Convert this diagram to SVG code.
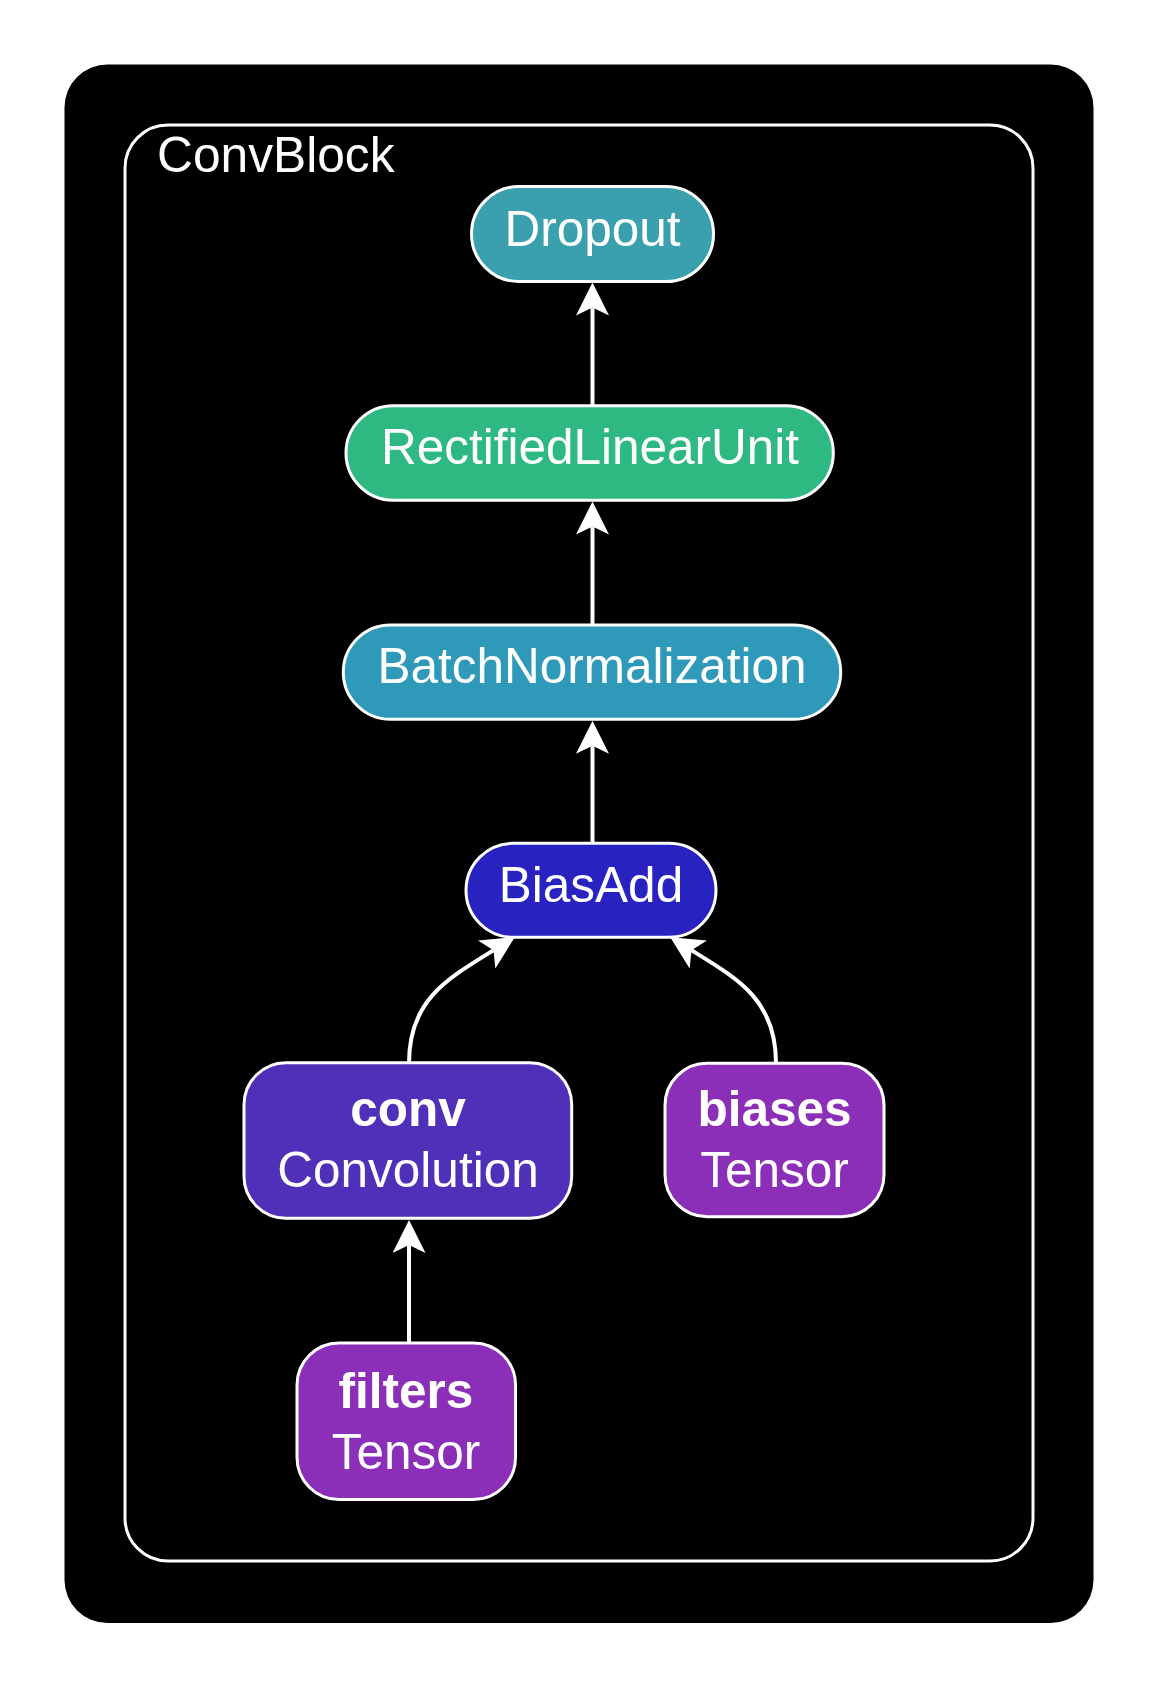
<svg xmlns="http://www.w3.org/2000/svg" width="1158" height="1688" viewBox="0 0 1158 1688">
<defs>
<style>
.node{stroke:#ffffff;stroke-width:3}
.t{font-family:"Liberation Sans",Arial,Helvetica,sans-serif;font-size:49.5px;fill:#ffffff;text-anchor:middle}
.b{font-weight:bold}
.edge{fill:none;stroke:#ffffff;stroke-width:4}
</style>
<marker id="arr" markerUnits="userSpaceOnUse" viewBox="0 0 33 33" refX="8" refY="16.5" markerWidth="33" markerHeight="33" orient="auto">
<path d="M33,16.5 L0,0 L8,16.5 L0,33 Z" fill="#ffffff"/>
</marker>
</defs>
<rect x="0" y="0" width="1158" height="1688" fill="#ffffff"/>
<rect x="64.5" y="64.5" width="1029" height="1558.5" rx="43" ry="43" fill="#000000"/>
<g id="cluster-ConvBlock">
<rect x="125" y="125" width="908" height="1436" rx="43" ry="43" fill="none" stroke="#ffffff" stroke-width="3"/>
<text x="157" y="172" class="t" style="text-anchor:start;font-size:49.7px">ConvBlock</text>
</g>
<g id="connectors">
<path class="edge" d="M592.5,405.7 V307.5" marker-end="url(#arr)"/>
<path class="edge" d="M592.5,625 V526.5" marker-end="url(#arr)"/>
<path class="edge" d="M592.5,843 V745.8" marker-end="url(#arr)"/>
<path class="edge" d="M409,1063 C409,1000 447,979 493.5,950.3" marker-end="url(#arr)"/>
<path class="edge" d="M776,1063 C776,1000 738,979 691.5,950.3" marker-end="url(#arr)"/>
<path class="edge" d="M409,1343 V1245" marker-end="url(#arr)"/>
</g>
<g id="node-Dropout">
<rect class="node" x="471.5" y="186.5" width="242" height="95" rx="47.5" ry="47.5" fill="#3AA0AE"/>
<text class="t" x="592.5" y="246">Dropout</text>
</g>
<g id="node-RectifiedLinearUnit">
<rect class="node" x="346" y="405.7" width="487.3" height="94.5" rx="47.25" ry="47.25" fill="#2EB982"/>
<text class="t" x="590" y="464.3">RectifiedLinearUnit</text>
</g>
<g id="node-BatchNormalization">
<rect class="node" x="343.3" y="625" width="497.4" height="94.3" rx="47.15" ry="47.15" fill="#2F99B9"/>
<text class="t" x="592" y="682.7">BatchNormalization</text>
</g>
<g id="node-BiasAdd">
<rect class="node" x="466" y="843.3" width="250" height="94" rx="47" ry="47" fill="#2822C1"/>
<text class="t" x="591" y="901.7">BiasAdd</text>
</g>
<g id="node-conv">
<rect class="node" x="244" y="1062.7" width="327.7" height="155.6" rx="42" ry="42" fill="#5030B8"/>
<text class="t b" x="408" y="1126">conv</text>
<text class="t" x="408" y="1186.7">Convolution</text>
</g>
<g id="node-biases">
<rect class="node" x="665" y="1063.3" width="219" height="153.4" rx="42" ry="42" fill="#8C2FB8"/>
<text class="t b" x="774.5" y="1126">biases</text>
<text class="t" x="774.5" y="1186.7">Tensor</text>
</g>
<g id="node-filters">
<rect class="node" x="297" y="1343" width="218.5" height="156.5" rx="42" ry="42" fill="#8C2FB8"/>
<text class="t b" x="406" y="1408">filters</text>
<text class="t" x="406" y="1468.5">Tensor</text>
</g>
</svg>
